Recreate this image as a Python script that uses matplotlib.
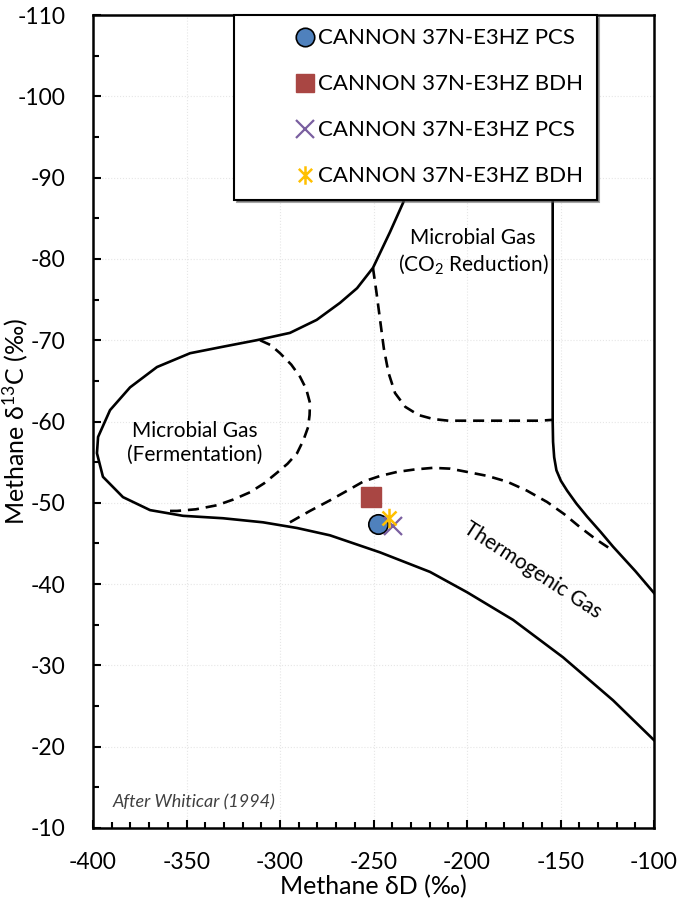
"""Methane dD vs d13C genetic diagram (after Whiticar 1994) with CANNON 37N-E3HZ samples."""
import matplotlib
matplotlib.use("Agg")
import matplotlib.pyplot as plt
from matplotlib.path import Path
from matplotlib.ticker import MultipleLocator

plt.rcParams["font.family"] = ["Lato", "DejaVu Sans"]
plt.rcParams["mathtext.fontset"] = "custom"
plt.rcParams["mathtext.rm"] = "Lato"
plt.rcParams["mathtext.it"] = "Lato:italic"
plt.rcParams["axes.unicode_minus"] = False

# outer solid boundary: top -> left lobe -> bottom edge of thermogenic field
outer_x = [-225.0, -234.2, -241.2, -250.3, -258.8, -267.9, -280.4, -294.7, -312.5,
           -330.5, -348.1, -365.8, -380.2, -390.9, -397.3, -397.9, -394.7, -384.0,
           -369.5, -351.9, -330.5, -309.1, -290.9, -273.3, -246.5, -219.8, -200.0,
           -175.4, -148.7, -121.9, -100.0]
outer_y = [-93.0, -86.9, -83.3, -78.9, -76.4, -74.6, -72.5, -70.9, -70.0,
           -69.2, -68.4, -66.7, -64.2, -61.4, -58.1, -56.1, -53.2, -50.7,
           -49.1, -48.4, -48.1, -47.6, -46.9, -46.0, -43.9, -41.5, -39.0,
           -35.6, -31.0, -25.7, -20.8]

# right solid boundary
right_x = [-154.2, -154.2, -154.0, -153.4, -152.2, -149.8, -146.5, -141.5, -135.8,
           -128.5, -121.9, -110.0, -100.0]
right_y = [-110.0, -60.0, -57.5, -55.6, -54.0, -52.7, -51.5, -49.9, -48.3,
           -46.4, -44.6, -41.6, -38.9]

# dashed sub-field boundaries
ferm_x = [-310.7, -305.0, -300.0, -294.0, -289.3, -286.0, -284.0, -284.2, -285.0,
          -287.5, -290.9, -296.0, -301.6, -308.5, -316.0, -325.0, -333.7, -345.0,
          -355.1, -360.4]
ferm_y = [-70.0, -69.4, -68.4, -67.0, -65.5, -64.0, -62.3, -60.8, -59.3,
          -57.7, -56.1, -54.8, -53.7, -52.4, -51.3, -50.4, -49.7, -49.2,
          -49.0, -49.0]

co2_x = [-250.3, -248.5, -246.5, -244.5, -242.0, -238.5, -233.0, -226.0, -218.0,
         -210.0, -160.9, -154.5]
co2_y = [-78.9, -76.0, -72.5, -69.0, -66.0, -63.5, -61.8, -60.8, -60.3,
         -60.1, -60.1, -60.2]

thermo_x = [-294.7, -284.0, -273.3, -264.0, -255.6, -246.5, -237.4, -228.0, -218.2,
            -209.0, -200.0, -189.0, -178.6, -168.0, -157.2, -148.0, -139.6, -131.0,
            -122.5]
thermo_y = [-47.6, -49.0, -50.3, -51.5, -52.6, -53.3, -53.8, -54.1, -54.3,
            -54.2, -53.8, -53.3, -52.6, -51.5, -50.1, -48.6, -47.0, -45.5,
            -44.2]

# samples
labels = ["CANNON 37N-E3HZ PCS", "CANNON 37N-E3HZ BDH",
          "CANNON 37N-E3HZ PCS", "CANNON 37N-E3HZ BDH"]
sample_dD = [-247.4, -251.3, -239.7, -241.5]
sample_d13C = [-47.4, -50.7, -47.1, -48.1]

asterisk = Path([(0, -1), (0, 1), (-0.72, -0.72), (0.72, 0.72), (-0.72, 0.72), (0.72, -0.72)],
                [Path.MOVETO, Path.LINETO] * 3)

fig = plt.figure(figsize=(6.82, 9.05), dpi=100)
ax = fig.add_axes([0.1364, 0.0851, 0.8226, 0.8983])

ax.set_xlim(-400, -100)
ax.set_ylim(-10, -110)
ax.xaxis.set_major_locator(MultipleLocator(50))
ax.xaxis.set_minor_locator(MultipleLocator(10))
ax.yaxis.set_major_locator(MultipleLocator(10))
ax.yaxis.set_minor_locator(MultipleLocator(5))
ax.grid(True, which="major", color="#e6e6e6", linestyle=":", linewidth=0.8)
ax.set_axisbelow(True)

for s in ax.spines.values():
    s.set_linewidth(1.8)
ax.tick_params(which="both", direction="in", width=1.5, labelsize=16.5)
ax.tick_params(axis="x", which="both", pad=17)
ax.tick_params(axis="y", which="both", pad=20)
ax.tick_params(which="major", length=6)
ax.tick_params(which="minor", length=4)

ax.plot(outer_x, outer_y, color="black", lw=1.9, zorder=2)
ax.plot(right_x, right_y, color="black", lw=1.9, zorder=2)
for xs, ys in [(ferm_x, ferm_y), (co2_x, co2_y), (thermo_x, thermo_y)]:
    ax.plot(xs, ys, color="black", lw=1.9, dashes=(4.2, 2.6), zorder=2)

ax.plot(sample_dD[0], sample_d13C[0], "o", ms=14, mfc="#4f81bd", mec="black", mew=1.2,
        ls="none", label=labels[0], zorder=3)
ax.plot(sample_dD[1], sample_d13C[1], "s", ms=14, mfc="#a94643", mec="#a94643",
        ls="none", label=labels[1], zorder=3)
ax.plot(sample_dD[2], sample_d13C[2], "x", ms=13, mec="#7a5fa0", mew=1.6,
        ls="none", label=labels[2], zorder=4)
ax.plot(sample_dD[3], sample_d13C[3], marker=asterisk, ms=14, mfc="none", mec="#ffc000",
        mew=1.8, ls="none", label=labels[3], zorder=4)

ax.text(-345.5, -57.4, "Microbial Gas\n(Fermentation)", ha="center", va="center",
        fontsize=15, linespacing=1.25)
ax.text(-196.8, -80.9, "Microbial Gas\n(CO$_2$ Reduction)", ha="center", va="center",
        fontsize=15, linespacing=1.25)
ax.text(-164.7, -41.7, "Thermogenic Gas", ha="center", va="center", fontsize=15,
        rotation=-33)
ax.text(-389.5, -13.2, "After Whiticar (1994)", ha="left", va="center", fontsize=13,
        style="italic", color="#404040")

ax.set_xlabel("Methane δD (‰)", fontsize=18)
ax.set_ylabel("Methane δ$^{13}$C (‰)", fontsize=18)
ax.xaxis.set_label_coords(0.5, -0.058)
ax.yaxis.set_label_coords(-0.112, 0.5)

leg = ax.legend(loc="upper left", bbox_to_anchor=(0.251, 1.0), fontsize=16,
                frameon=True, fancybox=False, shadow=True, labelspacing=1.17,
                handletextpad=-2.0, handlelength=5.2, borderpad=0.6,
                borderaxespad=0, framealpha=1, markerscale=0.95)
leg.get_frame().set_edgecolor("black")
leg.get_frame().set_linewidth(1.5)

fig.savefig("out.png", dpi=100)
